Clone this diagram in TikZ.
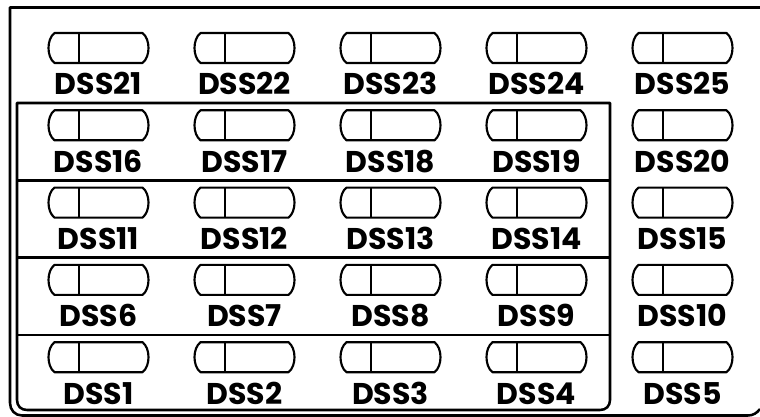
\documentclass[tikz,border=0pt]{standalone}
\usepackage{fontspec}
\setmainfont{Poppins}
\begin{document}
\begin{tikzpicture}[x=0.75pt,y=-0.75pt,line join=round,
  keyline/.style={line width=1.6pt},
  frame/.style={line width=1.9pt},
  lbl/.style={font=\bfseries\fontsize{22.5}{22.5}\selectfont,inner sep=0pt,anchor=base},
  dsskey/.pic={
    \draw[keyline] (-44,-15) -- (44,-15) .. controls (52,-9) and (52,9) .. (44,15)
      -- (-44,15) .. controls (-52,9) and (-52,-9) .. (-44,-15) -- cycle;
    \draw[keyline] (-19.5,-15) -- (-19.5,15);
  }]
\useasboundingbox (0,0) rectangle (760,417);
% outer frame
\draw[frame] (762,7.5) -- (10,7.5) -- (10,403) .. controls (10,410) and (15,415.5) .. (22,415.5)
  -- (748,415.5) .. controls (753,415.5) and (757,413) .. (760,409);
% inner box
\draw[frame] (17,103) -- (610,103) -- (610,400) .. controls (610,406) and (606,410) .. (600,410)
  -- (27,410) .. controls (21,410) and (17,406) .. (17,400) -- cycle;
\draw[frame] (17,180.3) -- (610,180.3);
\draw[frame] (17,257.6) -- (610,257.6);
\draw[frame] (17,334.9) -- (610,334.9);
% keys and labels
\foreach \r in {0,...,4} {
  \foreach \c in {0,...,4} {
    \pgfmathtruncatemacro{\n}{21-5*\r+\c}
    \pgfmathsetmacro{\cx}{98.5+146*\c}
    \pgfmathsetmacro{\ky}{48+77.3*\r}
    \pgfmathsetmacro{\ly}{95+77.3*\r}
    \pic (k\n) at (\cx,\ky) {dsskey};
    \node[lbl] (l\n) at (\cx,\ly) {DSS\n};
  }
}
\end{tikzpicture}
\end{document}
